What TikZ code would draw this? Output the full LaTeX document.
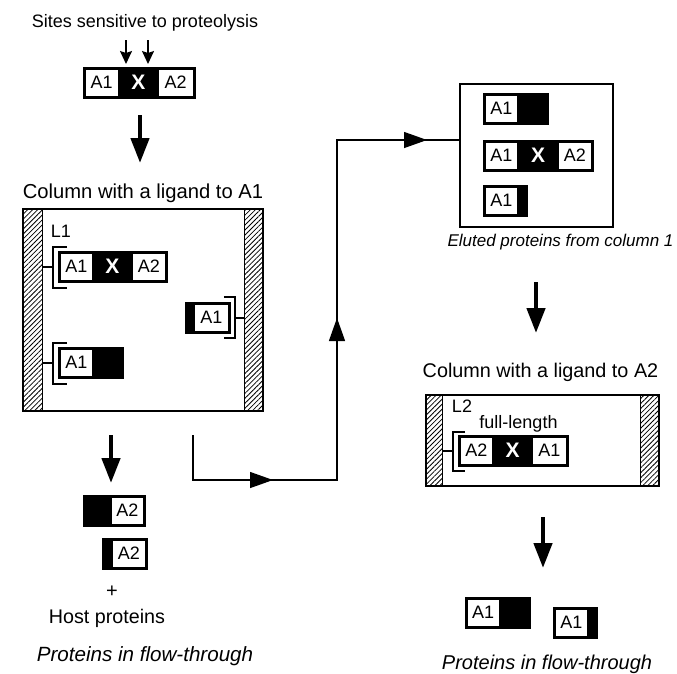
\documentclass[tikz,border=0pt]{standalone}
\usepackage{fontspec}
\setmainfont{Liberation Sans}
\usetikzlibrary{arrows.meta,patterns.meta,decorations.markings,calc}
\newcommand\fsz[1]{\fontsize{#1}{#1}\selectfont}
\begin{document}
\begin{tikzpicture}[x=1pt,y=-1pt,
  bar/.style={fill=black,draw=black,line width=0.8pt,inner sep=0,anchor=north west,minimum height=31pt},
  dom/.style={fill=white,inner sep=0,anchor=north west,minimum height=26pt,font=\fsz{18}},
  xlab/.style={text=white,inner sep=0,font=\bfseries\fsz{21}},
  lbl/.style={inner sep=0,anchor=base,font=\fsz{19}},
  slbl/.style={inner sep=0,anchor=base,font=\fsz{18}},
  ilbl/.style={inner sep=0,anchor=base,font=\itshape\fsz{19}},
  colbox/.style={draw,line width=1.6pt,inner sep=0,anchor=north west},
  wall/.style={draw,line width=1.2pt,inner sep=0,anchor=north west,pattern={Lines[angle=45,distance=3.5pt,line width=0.8pt]}},
  brk/.style={line width=1.5pt},
  link/.style={line width=1.2pt},
  bigarrow/.style={line width=4.5pt,-{Triangle[length=25pt,width=18pt]}},
  smallarrow/.style={line width=1.6pt,-{Stealth[length=13pt,width=12pt,inset=2pt]}},
  flow/.style={line width=1.3pt}
]
\useasboundingbox (0,0) rectangle (677,673);

% ---------- top protein ----------
\node[slbl] (sites) at (145,27) {Sites sensitive to proteolysis};
\coordinate (s1a) at (126,40); \coordinate (s1b) at (126,64);
\coordinate (s2a) at (148,40); \coordinate (s2b) at (148,64);
\draw[smallarrow] (s1a) -- (s1b);
\draw[smallarrow] (s2a) -- (s2b);
\node[bar,minimum width=112pt] (p0) at (83,67) {};
\node[dom,minimum width=32pt] (p0a) at (85.5,69.5) {A1};
\node[xlab] (p0x) at (138.5,82.5) {X};
\node[dom,minimum width=34pt] (p0b) at (158.5,69.5) {A2};

\coordinate (a1s) at (140,115); \coordinate (a1e) at (140,163);
\draw[bigarrow] (a1s) -- (a1e);

% ---------- column 1 ----------
\node[lbl,font=\fsz{20.2}] (h1) at (143,198) {Column with a ligand to A1};
\node[colbox,minimum width=240pt,minimum height=202pt] (col1) at (22,208) {};
\node[wall,minimum width=20pt,minimum height=202pt] (w1l) at (22,208) {};
\node[wall,minimum width=18pt,minimum height=202pt] (w1r) at (244,208) {};
\node[slbl] (l1) at (61,237) {L1};

\node[bar,minimum width=109pt] (c1a) at (58,251) {};
\node[dom,minimum width=31.5pt] (c1aa) at (60.5,253.5) {A1};
\node[xlab] (c1ax) at (112.5,266.5) {X};
\node[dom,minimum width=31.5pt] (c1ab) at (133,253.5) {A2};
\draw[brk] ($(c1a.north west)+(9,-4)$) -- ($(c1a.north west)+(-5,-4)$) -- ($(c1a.south west)+(-5,5)$) -- ($(c1a.south west)+(9,5)$);
\draw[link] (w1l.east |- c1a.west) -- ($(c1a.west)+(-5,0)$);

\node[bar,minimum width=45pt] (c1b) at (185,302) {};
\node[dom,minimum width=32.5pt] (c1ba) at (195,304.5) {A1};
\draw[brk] ($(c1b.north east)+(-7,-5)$) -- ($(c1b.north east)+(4,-5)$) -- ($(c1b.south east)+(4,4)$) -- ($(c1b.south east)+(-7,4)$);
\draw[link] ($(c1b.east)+(4,0)$) -- (w1r.west |- c1b.east);

\node[bar,minimum width=65pt] (c1c) at (58,347) {};
\node[dom,minimum width=31.5pt] (c1ca) at (60.5,349.5) {A1};
\draw[brk] ($(c1c.north west)+(9,-4)$) -- ($(c1c.north west)+(-5,-4)$) -- ($(c1c.south west)+(-5,5)$) -- ($(c1c.south west)+(9,5)$);
\draw[link] (w1l.east |- c1c.west) -- ($(c1c.west)+(-5,0)$);

% ---------- flow-through 1 ----------
\coordinate (a2s) at (111,435); \coordinate (a2e) at (111,483);
\draw[bigarrow] (a2s) -- (a2e);
\node[bar,minimum width=62pt] (f1) at (83,495) {};
\node[dom,minimum width=30.5pt] (f1a) at (112,497.5) {A2};
\node[bar,minimum width=45pt] (f2) at (102,538) {};
\node[dom,minimum width=31.5pt] (f2a) at (113,540.5) {A2};
\node[lbl,font=\fsz{20}] (plus) at (112,597) {+};
\node[lbl,font=\fsz{19.7}] (host) at (107,623) {Host proteins};
\node[ilbl,font=\itshape\fsz{20.6}] (pft1) at (145,661) {Proteins in flow-through};

% ---------- eluted ----------
\node[colbox,minimum width=153pt,minimum height=143pt] (elu) at (459,83) {};
\node[bar,minimum width=65pt] (e1) at (483,93) {};
\node[dom,minimum width=31.5pt] (e1a) at (485.5,95.5) {A1};
\node[bar,minimum width=110pt] (e2) at (483,140) {};
\node[dom,minimum width=31.5pt] (e2a) at (485.5,142.5) {A1};
\node[xlab] (e2x) at (538,155.5) {X};
\node[dom,minimum width=31.5pt] (e2b) at (559,142.5) {A2};
\node[bar,minimum width=44pt] (e3) at (483,185) {};
\node[dom,minimum width=31.5pt] (e3a) at (485.5,187.5) {A1};
\node[ilbl,font=\itshape\fsz{17}] (elut) at (560.5,246) {Eluted proteins from column 1};

% ---------- flow path ----------
\coordinate (fs) at (193,435);
\coordinate (fc1) at (193,480);
\coordinate (fc2) at (337,480);
\coordinate (fc3) at (337,140);
\draw[flow,postaction={decorate},decoration={markings,
   mark=at position 125pt with {\arrow{Triangle[length=23pt,width=16pt]}},
   mark=at position 351pt with {\arrow{Triangle[length=23pt,width=16pt]}},
   mark=at position 619pt with {\arrow{Triangle[length=23pt,width=16pt]}}}]
   (fs) -- (fc1) -- (fc2) -- (fc3) -- (elu.west |- fc3);

% ---------- column 2 ----------
\coordinate (a3s) at (536,282); \coordinate (a3e) at (536,333);
\draw[bigarrow] (a3s) -- (a3e);
\node[lbl,font=\fsz{19.8}] (h2) at (540.5,377) {Column with a ligand to A2};
\node[colbox,minimum width=233pt,minimum height=91pt] (col2) at (425,394) {};
\node[wall,minimum width=17pt,minimum height=91pt] (w2l) at (425,394) {};
\node[wall,minimum width=18pt,minimum height=91pt] (w2r) at (640,394) {};
\node[slbl] (l2) at (462,412) {L2};
\node[slbl] (full) at (518.5,428) {full-length};
\node[bar,minimum width=110pt] (c2a) at (458,435) {};
\node[dom,minimum width=31.5pt] (c2aa) at (460.5,437.5) {A2};
\node[xlab] (c2ax) at (512.5,450.5) {X};
\node[dom,minimum width=32.5pt] (c2ab) at (533,437.5) {A1};
\draw[brk] ($(c2a.north west)+(7,-3)$) -- ($(c2a.north west)+(-5,-3)$) -- ($(c2a.south west)+(-5,4)$) -- ($(c2a.south west)+(7,4)$);
\draw[link] (w2l.east |- c2a.west) -- ($(c2a.west)+(-5,0)$);

% ---------- flow-through 2 ----------
\coordinate (a4s) at (543,517); \coordinate (a4e) at (543,568);
\draw[bigarrow] (a4s) -- (a4e);
\node[bar,minimum width=65pt] (f3) at (465,597) {};
\node[dom,minimum width=31pt] (f3a) at (467.5,599.5) {A1};
\node[bar,minimum width=44pt] (f4) at (553,607) {};
\node[dom,minimum width=31.5pt] (f4a) at (555.5,609.5) {A1};
\node[ilbl,font=\itshape\fsz{20}] (pft2) at (547,669) {Proteins in flow-through};
\end{tikzpicture}
\end{document}
